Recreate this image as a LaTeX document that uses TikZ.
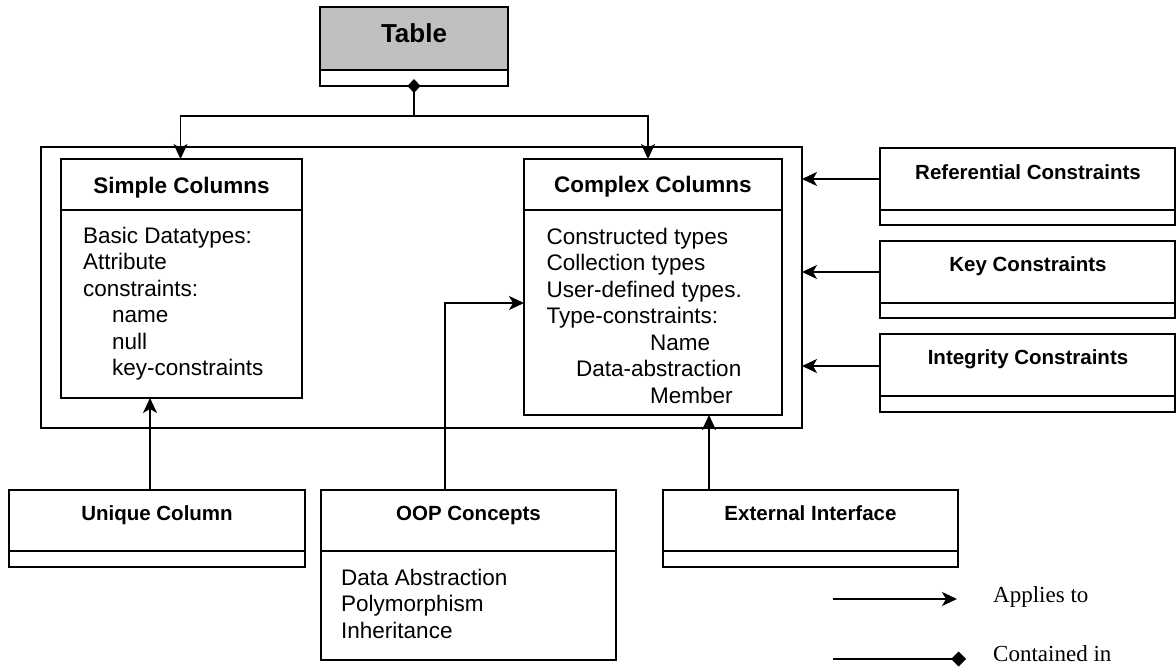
\documentclass[tikz,border=0pt]{standalone}
\usepackage{fontspec}
\setmainfont{Liberation Sans}
\newfontfamily\legendfont{Liberation Serif}
\usetikzlibrary{arrows.meta}
\definecolor{tablegray}{HTML}{C0C0C0}
\begin{document}
\begin{tikzpicture}[x=1pt,y=-1pt,
  box/.style={draw, line width=1.9pt, anchor=north west, inner sep=0pt, outer sep=0pt},
  conn/.style={line width=1.7pt},
  arr/.style={-{Stealth[length=15pt,width=14pt,inset=4pt]}},
  dia/.style={{Diamond[length=14pt,width=13pt]}-},
  diaend/.style={-{Diamond[length=15pt,width=15pt]}},
  headT/.style={font=\fontsize{26}{30}\selectfont\bfseries, anchor=base, inner sep=0pt},
  headA/.style={font=\fontsize{22.5}{27}\selectfont\bfseries, anchor=base, inner sep=0pt},
  headB/.style={font=\fontsize{20.5}{25}\selectfont\bfseries, anchor=base, inner sep=0pt},
  bodytxt/.style={font=\fontsize{22.5}{26.5}\selectfont, anchor=base west, inner sep=0pt},
  legtxt/.style={font=\legendfont\fontsize{23}{27}\selectfont, anchor=base west, inner sep=0pt}]
\useasboundingbox (0,0) rectangle (1176,669);

% Table
\node[box, fill=tablegray, minimum width=188pt, minimum height=63pt] (tabhead) at (320,7) {};
\node[box, minimum width=188pt, minimum height=16pt] (tabfoot) at (tabhead.south west) {};
\node[headT] (tabtxt) at (414,43) {Table};

% outer container
\node[box, minimum width=761pt, minimum height=281pt] (outer) at (41,147) {};

% Simple Columns
\node[box, minimum width=241pt, minimum height=51pt] (simplehead) at (61,159) {};
\node[box, minimum width=241pt, minimum height=188pt] (simplebody) at (simplehead.south west) {};
\node[headA] (simpletxt) at (181.5,193) {Simple Columns};
\node[bodytxt] (s1) at (83,243) {Basic Datatypes:};
\node[bodytxt] (s2) at (83,269.5) {Attribute};
\node[bodytxt] (s3) at (83,296) {constraints:};
\node[bodytxt] (s4) at (112,322.5) {name};
\node[bodytxt] (s5) at (112,349) {null};
\node[bodytxt] (s6) at (112,375.5) {key-constraints};

% Complex Columns
\node[box, minimum width=258pt, minimum height=51pt] (complexhead) at (524,159) {};
\node[box, minimum width=258pt, minimum height=205pt] (complexbody) at (complexhead.south west) {};
\node[headA] (complextxt) at (653,192.5) {Complex Columns};
\node[bodytxt] (c1) at (546.5,244) {Constructed types};
\node[bodytxt] (c2) at (546.5,270.5) {Collection types};
\node[bodytxt] (c3) at (546.5,297) {User-defined types.};
\node[bodytxt] (c4) at (546.5,323.5) {Type-constraints:};
\node[bodytxt] (c5) at (650,350) {Name};
\node[bodytxt] (c6) at (576,376.5) {Data-abstraction};
\node[bodytxt] (c7) at (650,403) {Member};

% Constraint boxes
\node[box, minimum width=295pt, minimum height=62pt] (refhead) at (880,148) {};
\node[box, minimum width=295pt, minimum height=15pt] (reffoot) at (refhead.south west) {};
\node[headB] (reftxt) at (1028,179.5) {Referential Constraints};

\node[box, minimum width=295pt, minimum height=62pt] (keyhead) at (880,241) {};
\node[box, minimum width=295pt, minimum height=15pt] (keyfoot) at (keyhead.south west) {};
\node[headB] (keytxt) at (1028,271.5) {Key Constraints};

\node[box, minimum width=295pt, minimum height=62pt] (inthead) at (880,334) {};
\node[box, minimum width=295pt, minimum height=16pt] (intfoot) at (inthead.south west) {};
\node[headB] (inttxt) at (1028,364.5) {Integrity Constraints};

% Bottom boxes
\node[box, minimum width=296pt, minimum height=61pt] (unihead) at (9,490) {};
\node[box, minimum width=296pt, minimum height=16pt] (unifoot) at (unihead.south west) {};
\node[headB] (unitxt) at (157,520.5) {Unique Column};

\node[box, minimum width=295pt, minimum height=61pt] (oophead) at (321,490) {};
\node[box, minimum width=295pt, minimum height=109pt] (oopbody) at (oophead.south west) {};
\node[headB] (ooptxt) at (468.5,520) {OOP Concepts};
\node[bodytxt] (o1) at (341,585) {Data Abstraction};
\node[bodytxt] (o2) at (341,611.5) {Polymorphism};
\node[bodytxt] (o3) at (341,638) {Inheritance};

\node[box, minimum width=295pt, minimum height=61pt] (exthead) at (663,490) {};
\node[box, minimum width=295pt, minimum height=16pt] (extfoot) at (exthead.south west) {};
\node[headB] (exttxt) at (810.5,520.5) {External Interface};

% Connectors
\coordinate (junction) at (414,116);
\draw[conn, dia] ([yshift=7pt]tabfoot.south) -- (junction);
\draw[conn, arr] (junction) -| ([xshift=-1pt]simplehead.north);
\draw[conn, arr] (junction) -| ([xshift=-5pt]complexhead.north);

\draw[conn, arr] (refhead.west) -- (refhead.west -| outer.east);
\draw[conn, arr] (keyhead.west) -- (keyhead.west -| outer.east);
\draw[conn, arr] ([yshift=-1pt]inthead.west) -- ([yshift=-1pt]inthead.west -| outer.east);

\draw[conn, arr] ([xshift=-7pt]unihead.north) -- ([xshift=-7pt]unihead.north |- simplebody.south);
\draw[conn, arr] ([xshift=-23.5pt]oophead.north) |- ([yshift=9.5pt]complexbody.west);
\draw[conn, arr] ([xshift=-101.5pt]exthead.north) -- ([xshift=-101.5pt]exthead.north |- complexbody.south);

% Legend
\coordinate (la) at (833,599);
\coordinate (lb) at (957,599);
\coordinate (lc) at (833,659);
\coordinate (ld) at (966,659);
\draw[conn, arr] (la) -- (lb);
\draw[conn, diaend] (lc) -- (ld);
\node[legtxt] (applies) at (993,602) {Applies to};
\node[legtxt] (contained) at (993,661) {Contained in};
\end{tikzpicture}
\end{document}
